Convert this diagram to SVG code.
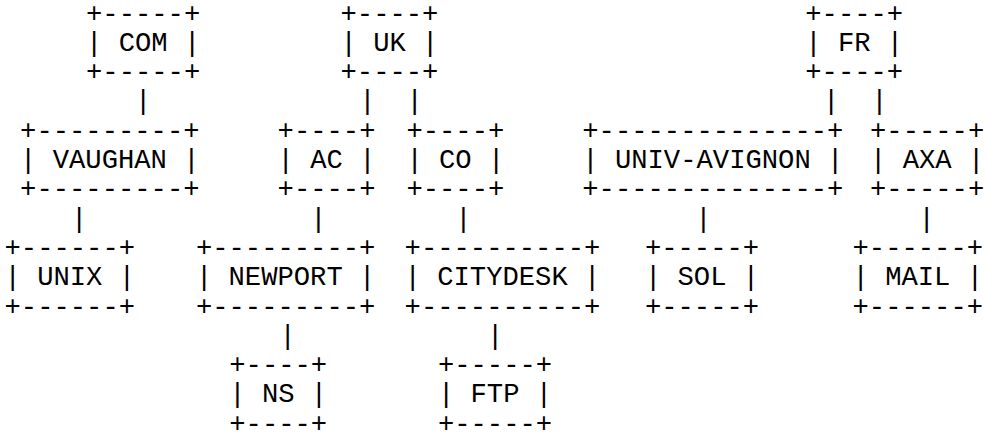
<svg xmlns="http://www.w3.org/2000/svg" width="985" height="434" viewBox="0 0 985 434">
<style>
text{font-family:"Liberation Mono","DejaVu Sans Mono",monospace;font-size:27.2px;fill:#000;white-space:pre}
</style>
<rect width="985" height="434" fill="#fff"/>
<g id="node-com"><text x="86" y="21.5">+-----+</text><text x="86" y="50.8">| COM |</text><text x="86" y="80.1">+-----+</text></g>
<g id="node-uk"><text x="340.5" y="21.5">+----+</text><text x="340.5" y="50.8">| UK |</text><text x="340.5" y="80.1">+----+</text></g>
<g id="node-fr"><text x="805.3" y="21.5">+----+</text><text x="805.3" y="50.8">| FR |</text><text x="805.3" y="80.1">+----+</text></g>
<g id="node-vaughan"><text x="20.1" y="138.7">+---------+</text><text x="20.1" y="168">| VAUGHAN |</text><text x="20.1" y="197.3">+---------+</text></g>
<g id="node-ac"><text x="277.6" y="138.7">+----+</text><text x="277.6" y="168">| AC |</text><text x="277.6" y="197.3">+----+</text></g>
<g id="node-co"><text x="406.4" y="138.7">+----+</text><text x="406.4" y="168">| CO |</text><text x="406.4" y="197.3">+----+</text></g>
<g id="node-univ-avignon"><text x="582.3" y="138.7">+--------------+</text><text x="582.3" y="168">| UNIV-AVIGNON |</text><text x="582.3" y="197.3">+--------------+</text></g>
<g id="node-axa"><text x="870" y="138.7">+-----+</text><text x="870" y="168">| AXA |</text><text x="870" y="197.3">+-----+</text></g>
<g id="node-unix"><text x="4.5" y="255.9">+------+</text><text x="4.5" y="285.2">| UNIX |</text><text x="4.5" y="314.5">+------+</text></g>
<g id="node-newport"><text x="195.9" y="255.9">+---------+</text><text x="195.9" y="285.2">| NEWPORT |</text><text x="195.9" y="314.5">+---------+</text></g>
<g id="node-citydesk"><text x="404.6" y="255.9">+----------+</text><text x="404.6" y="285.2">| CITYDESK |</text><text x="404.6" y="314.5">+----------+</text></g>
<g id="node-sol"><text x="644.9" y="255.9">+-----+</text><text x="644.9" y="285.2">| SOL |</text><text x="644.9" y="314.5">+-----+</text></g>
<g id="node-mail"><text x="852.5" y="255.9">+------+</text><text x="852.5" y="285.2">| MAIL |</text><text x="852.5" y="314.5">+------+</text></g>
<g id="node-ns"><text x="229.3" y="373.1">+----+</text><text x="229.3" y="402.4">| NS |</text><text x="229.3" y="431.7">+----+</text></g>
<g id="node-ftp"><text x="437.9" y="373.1">+-----+</text><text x="437.9" y="402.4">| FTP |</text><text x="437.9" y="431.7">+-----+</text></g>
<g id="connectors">
<text x="135" y="109.4">|</text><text x="359.3" y="109.4">|</text><text x="406.4" y="109.4">|</text><text x="822.9" y="109.4">|</text><text x="871.2" y="109.4">|</text>
<text x="70.9" y="226.6">|</text><text x="310.2" y="226.6">|</text><text x="455.2" y="226.6">|</text><text x="695.2" y="226.6">|</text><text x="918.6" y="226.6">|</text>
<text x="279.6" y="343.8">|</text><text x="486.9" y="343.8">|</text>
</g>
</svg>
